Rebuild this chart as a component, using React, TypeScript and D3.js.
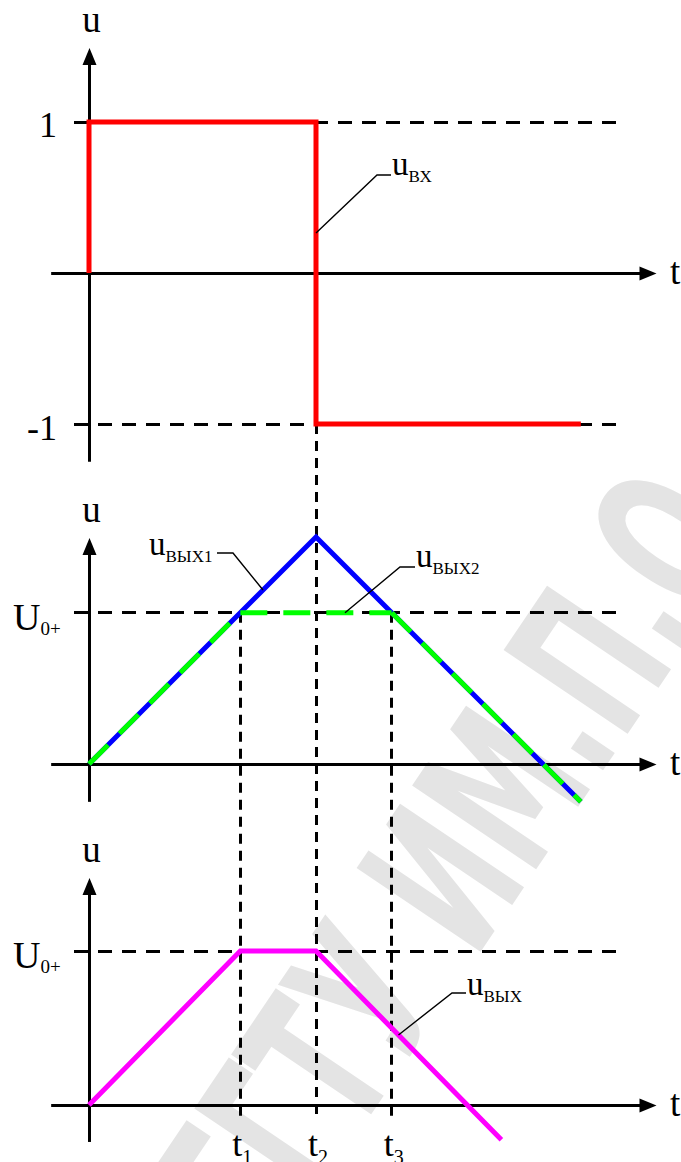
import React from "react";
import * as d3 from "d3";

const W = 681;
const H = 1162;

// switching instants t1, t2, t3
const tMarks = [2, 3, 4];
const tMarkNames = ["1", "2", "3"];

// input square wave u_вх
const inT = [0, 0, 3, 3, 6.5];
const inU = [0, 1, 1, -1, -1];

// integrator output without limiting, u_вых1
const out1T = [0, 3, 6.5];
const out1U = [0, 3, -0.5];

// limited output, u_вых2
const out2T = [0, 2, 4, 6.5];
const out2U = [0, 2, 2, -0.5];

// resulting output, u_вых
const outT = [0, 2, 3, 5.45];
const outU = [0, 2, 2, -0.45];

// saturation level U0+
const levelU0 = 2;

const SERIF = "'Liberation Serif', 'Times New Roman', serif";

const x = d3.scaleLinear().domain([0, 3]).range([89, 316]);
const yTop = d3.scaleLinear().domain([-1, 1]).range([424, 122]);
const yMid = d3.scaleLinear().domain([0, 3]).range([764, 537]);
const yBot = d3.scaleLinear().domain([0, 2]).range([1105, 951]);

type Scale = d3.ScaleLinear<number, number>;

const zip = (ts: number[], us: number[]) => ts.map((t, i) => [t, us[i]] as [number, number]);

function pathFor(ys: Scale, ts: number[], us: number[]) {
  return d3
    .line<[number, number]>()
    .x((d) => x(d[0]))
    .y((d) => ys(d[1]))(zip(ts, us)) as string;
}

// snap a 3px stroke centre onto the pixel grid
const snap = (v: number) => Math.round(v - 0.5) + 0.5;

function Axes({ ys, yLow, yHigh }: { ys: Scale; yLow: number; yHigh: number }) {
  const x0 = snap(x(0));
  const y0 = snap(ys(0));
  const tipY = ys(yHigh);
  const tipX = x(7.5);
  const ah = 17;
  const aw = 7;
  return (
    <g>
      <line x1={x0} x2={x0} y1={ys(yLow)} y2={tipY + ah - 1} stroke="#000" strokeWidth={3} />
      <path d={`M${x0},${tipY} L${x0 - aw},${tipY + ah} L${x0 + aw},${tipY + ah} Z`} fill="#000" />
      <line x1={x(-0.5)} x2={tipX - ah + 1} y1={y0} y2={y0} stroke="#000" strokeWidth={3} />
      <path d={`M${tipX},${y0} L${tipX - ah},${y0 - aw} L${tipX - ah},${y0 + aw} Z`} fill="#000" />
      <text x={x0 + 2} y={tipY - 16} fontFamily={SERIF} fontSize={37} textAnchor="middle">
        u
      </text>
      <text x={670} y={y0 + 10} fontFamily={SERIF} fontSize={37}>
        t
      </text>
    </g>
  );
}

function HDash({ ys, v }: { ys: Scale; v: number }) {
  const yy = snap(ys(v));
  return (
    <line
      x1={74}
      x2={x(7)}
      y1={yy}
      y2={yy}
      stroke="#000"
      strokeWidth={3}
      strokeDasharray="14 10"
    />
  );
}

function U0Label({ ys }: { ys: Scale }) {
  return (
    <text x={13} y={ys(levelU0) + 17} fontFamily={SERIF} fontSize={38}>
      U
      <tspan fontSize={19} dy={5}>
        0+
      </tspan>
    </text>
  );
}

function CurveLabel({
  tx,
  ty,
  main,
  sub,
  leader,
}: {
  tx: number;
  ty: number;
  main: string;
  sub: string;
  leader: [number, number][];
}) {
  return (
    <g>
      <path d={d3.line()(leader) as string} fill="none" stroke="#000" strokeWidth={1.4} />
      <text x={tx} y={ty} fontFamily={SERIF} fontSize={33}>
        {main}
        <tspan fontSize={17} dy={7}>
          {sub}
        </tspan>
      </text>
    </g>
  );
}

export default function App() {
  const out2Pts = zip(out2T, out2U);
  // green dashed trace: each segment restarts the dash pattern
  const out2Segs = out2Pts.slice(1).map((p, i) => [out2Pts[i], p]);

  // leader anchors on the traces
  const a1t = (263 - 89) / 75.667;
  const aOutT = 4.09;
  const aOut = 5 - aOutT;

  return (
    <svg width={W} height={H} style={{ display: "block", position: "absolute", left: 0, top: 0 }}>
      <rect width={W} height={H} fill="#fff" />

      {/* faint diagonal watermark */}
      <text
        transform="translate(270,1264) rotate(-56) scale(0.58,1)"
        fontFamily="'DejaVu Sans', sans-serif"
        fontWeight={700}
        fontSize={205}
        fill="#e4e4e4"
      >
        ГГТУ ИМ.П.О.СУХОГО
      </text>

      {/* vertical guides at t1, t2, t3 */}
      {tMarks.map((t, i) => (
        <line
          key={t}
          x1={snap(x(t))}
          x2={snap(x(t))}
          y1={i === 1 ? yTop(-1) : yMid(levelU0)}
          y2={1116}
          stroke="#000"
          strokeWidth={3}
          strokeDasharray="10 7"
        />
      ))}

      {/* top panel: input */}
      <Axes ys={yTop} yLow={-1.25} yHigh={1.49} />
      <HDash ys={yTop} v={1} />
      <HDash ys={yTop} v={-1} />
      <text x={57} y={yTop(1) + 15} fontFamily={SERIF} fontSize={36} textAnchor="end">
        1
      </text>
      <text x={57} y={yTop(-1) + 16} fontFamily={SERIF} fontSize={36} textAnchor="end">
        -1
      </text>
      <path d={pathFor(yTop, inT, inU)} fill="none" stroke="#ff0000" strokeWidth={5} />
      <CurveLabel
        tx={392}
        ty={175}
        main="u"
        sub="ВХ"
        leader={[
          [x(3), 233],
          [377, 175],
          [391, 175],
        ]}
      />

      {/* middle panel: u_вых1 and u_вых2 */}
      <Axes ys={yMid} yLow={-0.5} yHigh={2.987} />
      <HDash ys={yMid} v={levelU0} />
      <U0Label ys={yMid} />
      <path d={pathFor(yMid, out1T, out1U)} fill="none" stroke="#0000ff" strokeWidth={5} />
      {out2Segs.map((s, i) => (
        <line
          key={i}
          x1={x(s[0][0])}
          y1={yMid(s[0][1])}
          x2={x(s[1][0])}
          y2={yMid(s[1][1])}
          stroke="#00ff00"
          strokeWidth={5}
          strokeDasharray="27 16"
        />
      ))}
      <CurveLabel
        tx={149}
        ty={555}
        main="u"
        sub="ВЫХ1"
        leader={[
          [217, 553],
          [233, 553],
          [x(a1t), yMid(a1t)],
        ]}
      />
      <CurveLabel
        tx={416}
        ty={567}
        main="u"
        sub="ВЫХ2"
        leader={[
          [345, yMid(levelU0)],
          [400, 567],
          [415, 567],
        ]}
      />

      {/* bottom panel: u_вых */}
      <Axes ys={yBot} yLow={-0.48} yHigh={2.948} />
      <HDash ys={yBot} v={levelU0} />
      <U0Label ys={yBot} />
      <path d={pathFor(yBot, outT, outU)} fill="none" stroke="#ff00ff" strokeWidth={5} />
      <CurveLabel
        tx={467}
        ty={995}
        main="u"
        sub="ВЫХ"
        leader={[
          [x(aOutT), yBot(aOut)],
          [452, 993],
          [466, 993],
        ]}
      />

      {tMarks.map((t, i) => (
        <text key={t} x={x(t) - 8} y={1156} fontFamily={SERIF} fontSize={36}>
          t
          <tspan fontSize={20} dy={8}>
            {tMarkNames[i]}
          </tspan>
        </text>
      ))}
    </svg>
  );
}
